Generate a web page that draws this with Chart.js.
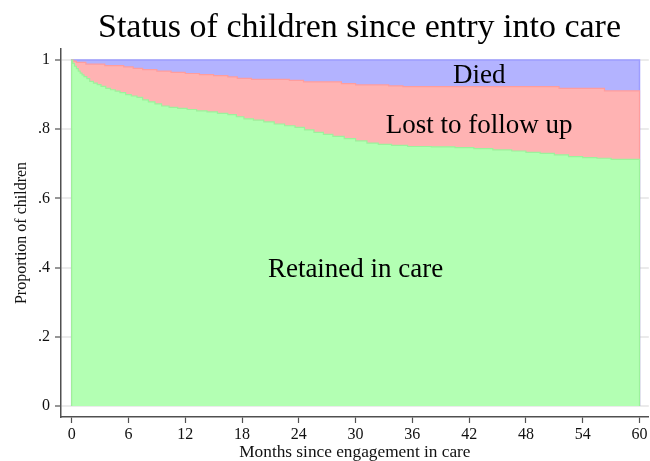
<!DOCTYPE html>
<html>
<head>
<meta charset="utf-8">
<script src="https://cdn.jsdelivr.net/npm/chart.js@4.4.1/dist/chart.umd.min.js"></script>
<style>
  html, body { margin: 0; padding: 0; background: #fff; }
  canvas { display: block; }
</style>
</head>
<body>
<canvas id="careChart" width="650" height="461"></canvas>
<script>
// Retained in care (lower curve), months since engagement
const retainedMonths = [0, 0.1, 0.3, 0.5, 0.7, 0.9, 1.1, 1.3, 1.6, 1.9, 2.3, 2.7, 3.1, 3.6, 4.1, 4.6, 5.1, 5.7,
  6.3, 6.9, 7.5, 8.1, 8.8, 9.5, 10.3, 11.2, 12.2, 13.2, 14.3, 15.4, 16.5, 17.4, 18.2, 19.2, 20.3, 21.4,
  22.5, 23.6, 24.6, 25.6, 26.6, 27.6, 28.8, 30.0, 31.2, 32.4, 33.8, 35.5, 38.0, 40.5, 42.5, 44.5, 46.5,
  48.0, 49.5, 51.0, 52.5, 54.0, 55.5, 57.0, 60];
const retainedValues = [1.000, 0.990, 0.982, 0.975, 0.968, 0.962, 0.957, 0.952, 0.946, 0.938, 0.933, 0.929,
  0.924, 0.918, 0.914, 0.910, 0.906, 0.900, 0.896, 0.892, 0.885, 0.879, 0.873, 0.867, 0.863, 0.860, 0.857,
  0.853, 0.850, 0.846, 0.842, 0.836, 0.830, 0.826, 0.821, 0.815, 0.810, 0.805, 0.798, 0.791, 0.785, 0.779,
  0.773, 0.766, 0.760, 0.756, 0.753, 0.750, 0.749, 0.747, 0.744, 0.740, 0.737, 0.733, 0.730, 0.726, 0.721,
  0.718, 0.716, 0.713, 0.712];

// Retained + lost to follow up (i.e. 1 - died)
const aliveMonths = [0, 0.2, 0.5, 1.5, 3.5, 5.5, 6.5, 7.5, 9.0, 10.5, 12.0, 13.5, 15.0, 16.5, 17.5, 19.0,
  23.0, 24.5, 28.5, 30.0, 33.5, 35.0, 51.5, 56.3, 60];
const aliveValues = [1.000, 0.997, 0.993, 0.988, 0.984, 0.980, 0.976, 0.972, 0.968, 0.964, 0.961, 0.958,
  0.955, 0.951, 0.947, 0.944, 0.941, 0.937, 0.932, 0.928, 0.925, 0.923, 0.918, 0.911, 0.910];

// Everyone (top of the died band)
const totalMonths = [0, 60];
const totalValues = [1, 1];

const xTicks = [0, 6, 12, 18, 24, 30, 36, 42, 48, 54, 60];
const yTicks = [0, 0.2, 0.4, 0.6, 0.8, 1];
const yTickLabels = ["0", ".2", ".4", ".6", ".8", "1"];

const bandLabels = [
  { text: "Died", x: 43.06, y: 0.933 },
  { text: "Lost to follow up", x: 43.06, y: 0.788 },
  { text: "Retained in care", x: 30.0, y: 0.373 }
];

const serif = "'Liberation Serif', 'Times New Roman', serif";

// closed area: up the left edge, along the curve, down the right edge
function toArea(months, values) {
  const pts = months.map((m, i) => ({ x: m, y: values[i] }));
  pts.unshift({ x: months[0], y: 0 });
  pts.push({ x: months[months.length - 1], y: 0 });
  return pts;
}

const textPlugin = {
  id: "textPlugin",
  afterDraw(chart) {
    const ctx = chart.ctx;
    const xs = chart.scales.x, ys = chart.scales.y;
    ctx.save();
    ctx.fillStyle = "#000";
    ctx.textAlign = "center";
    ctx.textBaseline = "alphabetic";
    ctx.font = "34px " + serif;
    ctx.fillText("Status of children since entry into care", 359.5, 36.7);
    ctx.font = "27px " + serif;
    bandLabels.forEach(l => {
      ctx.fillText(l.text, xs.getPixelForValue(l.x), ys.getPixelForValue(l.y));
    });
    ctx.restore();
  }
};

new Chart(document.getElementById("careChart"), {
  type: "line",
  data: {
    datasets: [
      {
        label: "Retained in care",
        data: toArea(retainedMonths, retainedValues),
        backgroundColor: "#b3ffb3",
        borderColor: "#9cf29c",
        borderWidth: 1.2,
        fill: "origin",
        order: 0
      },
      {
        label: "Lost to follow up",
        data: toArea(aliveMonths, aliveValues),
        backgroundColor: "#ffb3b3",
        borderColor: "#ff9d9d",
        borderWidth: 1.2,
        fill: "origin",
        order: 1
      },
      {
        label: "Died",
        data: toArea(totalMonths, totalValues),
        backgroundColor: "#b3b3ff",
        borderColor: "#9d9dff",
        borderWidth: 1.5,
        fill: "origin",
        order: 2
      }
    ]
  },
  options: {
    responsive: false,
    animation: false,
    devicePixelRatio: 1,
    elements: {
      point: { radius: 0 },
      line: { stepped: "before", tension: 0 }
    },
    layout: { padding: { top: 49, right: 0, left: 0, bottom: 0 } },
    plugins: {
      legend: { display: false },
      tooltip: { enabled: false },
      title: { display: false }
    },
    scales: {
      x: {
        type: "linear",
        min: -1.128,
        max: 60.98,
        afterFit: s => { s.height = 44; },
        afterBuildTicks: s => { s.ticks = xTicks.map(v => ({ value: v })); },
        grid: { drawOnChartArea: false, drawTicks: true, tickLength: 6, tickColor: "#505050", tickWidth: 1.2 },
        border: { color: "#505050", width: 1.5 },
        ticks: { font: { family: serif, size: 16 }, color: "#111", padding: 2.5, maxRotation: 0 },
        title: {
          display: true,
          text: "Months since engagement in care",
          font: { family: serif, size: 17.3, lineHeight: 1 },
          color: "#111",
          padding: { top: 0, bottom: 0 }
        }
      },
      y: {
        type: "linear",
        min: -0.0318,
        max: 1.0318,
        afterFit: s => { s.width = 61; },
        afterBuildTicks: s => { s.ticks = yTicks.map(v => ({ value: v })); },
        grid: { color: "#ebebeb", lineWidth: 2, drawTicks: true, tickLength: 6, tickColor: "#505050", tickWidth: 1.2 },
        border: { color: "#505050", width: 1.5 },
        ticks: {
          font: { family: serif, size: 16 },
          color: "#111",
          padding: 5,
          callback: v => yTickLabels[yTicks.indexOf(v)] ?? ""
        },
        title: {
          display: true,
          text: "Proportion of children",
          font: { family: serif, size: 16, lineHeight: 1.2 },
          color: "#111",
          padding: { top: 12.5, bottom: 0 }
        }
      }
    }
  },
  plugins: [textPlugin]
});
</script>
</body>
</html>
